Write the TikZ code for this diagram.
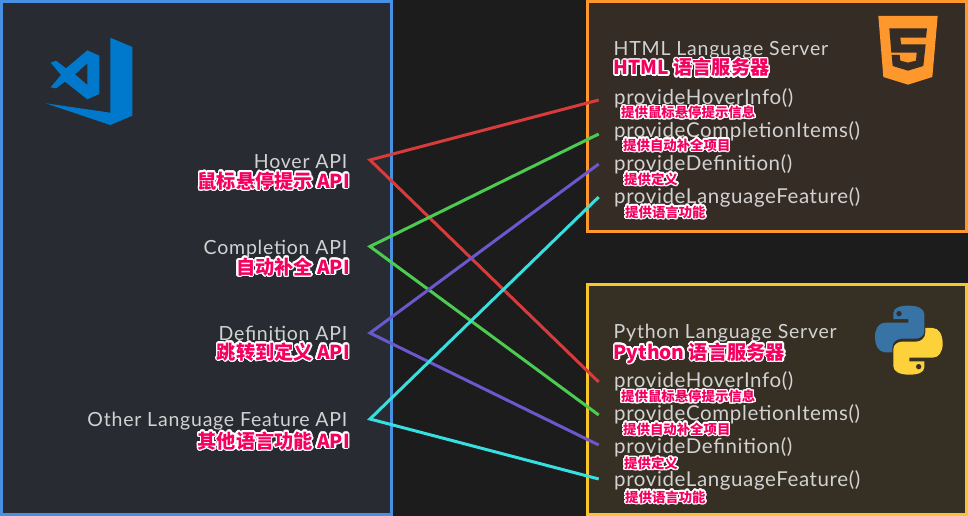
\documentclass[tikz,border=0pt]{standalone}
\usepackage{fontspec}
\usepackage{contour}
\setmainfont{Lato}
\newfontfamily\cjk{Noto Sans CJK SC}
\newfontfamily\apifont[LetterSpace=4]{Lato}
\newfontfamily\methodfont[LetterSpace=3]{Lato}
\contourlength{1.4pt}
\contournumber{24}
\definecolor{bgdark}{HTML}{1C1C1C}
\definecolor{vsfill}{HTML}{282C32}
\definecolor{vsedge}{HTML}{4A90E2}
\definecolor{vsicon}{HTML}{0078CC}
\definecolor{htmlfill}{HTML}{352C25}
\definecolor{htmledge}{HTML}{FF982C}
\definecolor{pyfill}{HTML}{362F24}
\definecolor{pyedge}{HTML}{F8C52C}
\definecolor{pyblue}{HTML}{3873A6}
\definecolor{pyyellow}{HTML}{FDD13A}
\definecolor{labelgrey}{HTML}{D2D2D2}
\definecolor{labelpink}{HTML}{F5005F}
\definecolor{hoverred}{HTML}{D83B3B}
\definecolor{compgreen}{HTML}{4CCB50}
\definecolor{defpurple}{HTML}{6A58CC}
\definecolor{featcyan}{HTML}{36DFE0}
\newcommand{\zh}[2][19.2]{\contour{white}{\textcolor{labelpink}{\fontsize{#1}{#1}\cjk\bfseries #2}}}
\tikzset{
    panel/.style={line width=3pt},
    link/.style={line width=3pt, miter limit=10},
    apiname/.style={anchor=base east, inner sep=0pt, text=labelgrey, font=\apifont\fontsize{19.5}{20}\selectfont},
    apizh/.style={anchor=base east, inner sep=0pt},
    servername/.style={anchor=base west, inner sep=0pt, text=labelgrey, font=\apifont\fontsize{19.5}{20}\selectfont},
    servzh/.style={anchor=base west, inner sep=0pt},
    methodname/.style={anchor=base west, inner sep=0pt, text=labelgrey, font=\methodfont\fontsize{20.5}{21}\selectfont},
    methodzh/.style={anchor=base west, inner sep=0pt}
}
\begin{document}
\begin{tikzpicture}[x=1pt, y=-1pt]
\useasboundingbox (0,0) rectangle (968,516);
\fill[bgdark] (0,0) rectangle (968,516);

\draw[panel, draw=vsedge, fill=vsfill] (1.5,1.5) rectangle (391.5,514.5);
\draw[panel, draw=htmledge, fill=htmlfill] (587.5,1.5) rectangle (966.5,231.5);
\draw[panel, draw=pyedge, fill=pyfill] (587.5,284.5) rectangle (966.5,514.5);

% vs code icon
\fill[vsicon] (110.3,37.7) -- (132.3,47) -- (132.3,115.7) -- (110.3,125) -- (45.7,103.3) -- (110.3,112.7) -- cycle;
\begin{scope}[shift={(30,25)}, x=.3333pt, y=-.3333pt]
\fill[vsicon, even odd rule] (172,76) -- (208,92) -- (208,207) -- (172,223) -- (105,170) -- (78,190) -- (62,187) -- (93,150) -- (62,113) -- (78,107) -- (108,130) -- cycle
    (172,115) -- (172,180) -- (135,148) -- cycle;
\end{scope}

% html5 icon
\begin{scope}[shift={(865,5)}, x=.3333pt, y=-.3333pt]
\fill[htmledge] (40,33) -- (218,33) -- (202,216) -- (129,239) -- (55,216) -- cycle;
\fill[htmlfill] (73,70) -- (186,70) -- (183,98) -- (106,98) -- (108,118) -- (182,118) -- (175,183) -- (129,197) -- (83,183) -- (80,150) -- (104,150) -- (106,167) -- (129,173) -- (153,167) -- (155,143) -- (79,143) -- cycle;
\end{scope}

% python icon
\begin{scope}[shift={(865,295)}, x=.3333pt, y=-.3333pt]
\foreach \ang/\col in {0/pyblue,180/pyyellow}{
\begin{scope}[rotate around={\ang:(131.5,135.5)}]
\fill[\col] (85,55) .. controls (85,38) and (105,32) .. (131,32) .. controls (160,32) and (178,42) .. (178,58) -- (178,108) .. controls (178,122) and (165,131) .. (152,131) -- (110,131) .. controls (95,131) and (82,142) .. (82,158) -- (82,172) -- (60,172) .. controls (40,172) and (30,150) .. (30,125) .. controls (30,100) and (42,83) .. (60,83) -- (130,83) -- (130,72) -- (85,72) -- cycle;
\fill[pyfill] (102,56) circle (8);
\end{scope}
}
\end{scope}

% api labels
\node[apiname] (hoverApi) at (347.5,168) {Hover API};
\node[apizh] (hoverZh) at (350,188) {\zh{鼠标悬停提示 API}};
\node[apiname] (compApi) at (347.5,254) {Completion API};
\node[apizh] (compZh) at (350,274) {\zh{自动补全 API}};
\node[apiname] (defApi) at (347.5,340) {Definition API};
\node[apizh] (defZh) at (350,359) {\zh{跳转到定义 API}};
\node[apiname] (featApi) at (347.5,426) {Other Language Feature API};
\node[apizh] (featZh) at (350,448) {\zh{其他语言功能 API}};

% html server
\node[servername] (htmlTitle) at (613.5,55.5) {HTML Language Server};
\node[servzh] (htmlZh) at (613.5,75) {\zh{HTML 语言服务器}};
\node[methodname] (htmlHover) at (614,104.5) {provideHoverInfo()};
\node[methodzh] (htmlHoverZh) at (621,117.5) {\zh[13.4]{提供鼠标悬停提示信息}};
\node[methodname] (htmlComp) at (614,137) {provideCompletionItems()};
\node[methodzh] (htmlCompZh) at (623,150) {\zh[13.4]{提供自动补全项目}};
\node[methodname] (htmlDef) at (614,170) {provideDefinition()};
\node[methodzh] (htmlDefZh) at (624,184) {\zh[13.4]{提供定义}};
\node[methodname] (htmlFeat) at (614,203) {provideLanguageFeature()};
\node[methodzh] (htmlFeatZh) at (625,217) {\zh[13.4]{提供语言功能}};

% python server
\node[servername] (pyTitle) at (613.5,338.5) {Python Language Server};
\node[servzh] (pyZh) at (613.5,359) {\zh{Python 语言服务器}};
\node[methodname] (pyHover) at (614,387) {provideHoverInfo()};
\node[methodzh] (pyHoverZh) at (621,401.5) {\zh[13.4]{提供鼠标悬停提示信息}};
\node[methodname] (pyComp) at (614,420) {provideCompletionItems()};
\node[methodzh] (pyCompZh) at (623,434) {\zh[13.4]{提供自动补全项目}};
\node[methodname] (pyDef) at (614,453) {provideDefinition()};
\node[methodzh] (pyDefZh) at (624,468.5) {\zh[13.4]{提供定义}};
\node[methodname] (pyFeat) at (614,486) {provideLanguageFeature()};
\node[methodzh] (pyFeatZh) at (625,502) {\zh[13.4]{提供语言功能}};

% connectors
\coordinate (hoverTip) at (370,160);
\coordinate (compTip) at (370,246.5);
\coordinate (defTip) at (370,333);
\coordinate (featTip) at (370,419);
\coordinate (htmlHoverEnd) at (598.7,100);
\coordinate (htmlCompEnd) at (598.7,134);
\coordinate (htmlDefEnd) at (598.7,164);
\coordinate (htmlFeatEnd) at (598.7,197);
\coordinate (pyHoverEnd) at (598.7,382);
\coordinate (pyCompEnd) at (598.7,415);
\coordinate (pyDefEnd) at (598.7,445);
\coordinate (pyFeatEnd) at (598.7,479);
\draw[link, hoverred] (htmlHoverEnd) -- (hoverTip) -- (pyHoverEnd);
\draw[link, compgreen] (htmlCompEnd) -- (compTip) -- (pyCompEnd);
\draw[link, defpurple] (htmlDefEnd) -- (defTip) -- (pyDefEnd);
\draw[link, featcyan] (htmlFeatEnd) -- (featTip) -- (pyFeatEnd);
\end{tikzpicture}
\end{document}
